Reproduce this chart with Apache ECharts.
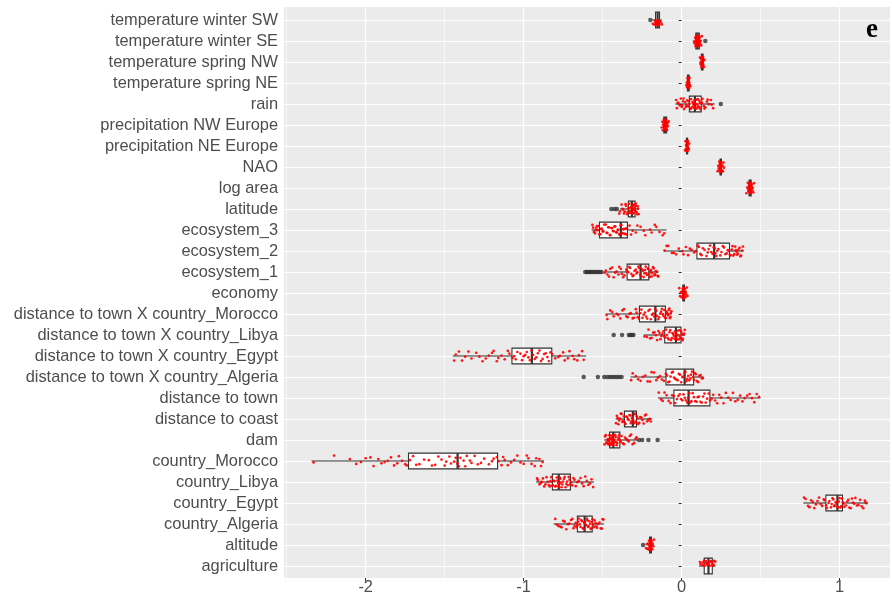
<!DOCTYPE html>
<html><head><meta charset="utf-8">
<script src="https://cdn.jsdelivr.net/npm/echarts@6/dist/echarts.min.js"></script>
<style>html,body{margin:0;padding:0;background:#fff}#c{width:892px;height:597px}</style>
</head><body><div id="c"></div>
<script>
const categories = ["temperature winter SW","temperature winter SE","temperature spring NW","temperature spring NE","rain","precipitation NW Europe","precipitation NE Europe","NAO","log area","latitude","ecosystem_3","ecosystem_2","ecosystem_1","economy","distance to town X country_Morocco","distance to town X country_Libya","distance to town X country_Egypt","distance to town X country_Algeria","distance to town","distance to coast","dam","country_Morocco","country_Libya","country_Egypt","country_Algeria","altitude","agriculture"];
const whiskerLow  = [-0.185,0.080,0.118,0.032,-0.040,-0.125,0.027,0.238,0.415,-0.390,-0.570,-0.113,-0.490,0.000,-0.480,-0.240,-1.449,-0.324,-0.150,-0.418,-0.490,-2.343,-0.921,0.770,-0.810,-0.215,0.110];
const q1          = [-0.165,0.090,0.125,0.037,0.049,-0.113,0.031,0.244,0.427,-0.337,-0.520,0.097,-0.345,0.008,-0.267,-0.107,-1.074,-0.099,-0.049,-0.362,-0.456,-1.729,-0.818,0.913,-0.660,-0.203,0.143];
const median      = [-0.152,0.100,0.130,0.042,0.084,-0.104,0.034,0.248,0.433,-0.315,-0.385,0.206,-0.260,0.013,-0.166,-0.036,-0.948,0.019,0.044,-0.309,-0.433,-1.418,-0.778,0.986,-0.614,-0.197,0.170];
const q3          = [-0.140,0.112,0.135,0.047,0.124,-0.095,0.037,0.252,0.440,-0.295,-0.343,0.303,-0.208,0.018,-0.103,-0.004,-0.822,0.076,0.179,-0.286,-0.391,-1.165,-0.704,1.018,-0.566,-0.191,0.194];
const whiskerHigh = [-0.125,0.125,0.142,0.052,0.210,-0.085,0.041,0.258,0.452,-0.270,-0.095,0.390,-0.145,0.028,-0.063,0.023,-0.604,0.139,0.500,-0.187,-0.282,-0.871,-0.555,1.175,-0.492,-0.180,0.215];
const outliers = [
  [-0.198],[0.150],[],[],[0.248],[],[],[],[],
  [-0.445,-0.425,-0.410],
  [],[],
  [-0.610,-0.600,-0.592,-0.583,-0.575,-0.566,-0.557,-0.548,-0.538,-0.528,-0.518,-0.508],
  [],[],
  [-0.430,-0.377,-0.334,-0.325,-0.315,-0.305],
  [],
  [-0.620,-0.530,-0.490,-0.470,-0.455,-0.440,-0.425,-0.410,-0.395,-0.380],
  [],[],
  [-0.270,-0.250,-0.210,-0.152],
  [],[],[],[],
  [-0.244],
  []
];
const points = [
  [-0.182,-0.178,-0.174,-0.171,-0.168,-0.166,-0.164,-0.162,-0.160,-0.158,-0.157,-0.155,-0.154,-0.153,-0.152,-0.151,-0.150,-0.149,-0.147,-0.146,-0.144,-0.142,-0.140,-0.138,-0.135,-0.132,-0.129,-0.125,-0.121,-0.156,-0.159,-0.148,-0.143,-0.163,-0.137],
  [0.078,0.082,0.085,0.088,0.090,0.092,0.094,0.095,0.097,0.098,0.099,0.100,0.101,0.102,0.104,0.105,0.106,0.108,0.110,0.112,0.114,0.117,0.120,0.124,0.128,0.096,0.103,0.109,0.093,0.107],
  [0.116,0.119,0.121,0.123,0.125,0.126,0.127,0.128,0.129,0.130,0.130,0.131,0.132,0.133,0.134,0.135,0.137,0.139,0.141,0.144,0.128,0.132],
  [0.030,0.033,0.035,0.037,0.038,0.039,0.040,0.041,0.042,0.042,0.043,0.044,0.045,0.046,0.048,0.050,0.052,0.055,0.040,0.044],
  [-0.035,-0.030,-0.020,-0.012,-0.005,0.000,0.008,0.015,0.022,0.030,0.036,0.042,0.050,0.055,0.060,0.066,0.072,0.078,0.083,0.088,0.094,0.100,0.106,0.112,0.118,0.124,0.132,0.140,0.150,0.160,0.172,0.185,0.200,
   -0.025,0.004,0.012,0.026,0.046,0.058,0.069,0.075,0.081,0.086,0.091,0.097,0.103,0.109,0.115,0.121,0.128,0.145,0.165,0.190],
  [-0.126,-0.122,-0.119,-0.116,-0.113,-0.111,-0.109,-0.107,-0.105,-0.104,-0.103,-0.101,-0.100,-0.098,-0.096,-0.094,-0.092,-0.089,-0.086,-0.082,-0.106,-0.099],
  [0.022,0.025,0.027,0.029,0.030,0.031,0.032,0.033,0.034,0.035,0.036,0.037,0.038,0.040,0.042,0.045,0.048,0.033,0.036],
  [0.228,0.232,0.235,0.238,0.240,0.242,0.244,0.245,0.246,0.247,0.248,0.249,0.250,0.251,0.252,0.254,0.256,0.258,0.261,0.265,0.268,0.247,0.250],
  [0.410,0.415,0.419,0.422,0.424,0.426,0.428,0.430,0.431,0.432,0.433,0.434,0.435,0.436,0.438,0.440,0.442,0.444,0.447,0.450,0.454,0.458,0.429,0.437,0.433,0.441],
  [-0.395,-0.380,-0.370,-0.360,-0.352,-0.345,-0.338,-0.332,-0.326,-0.320,-0.316,-0.312,-0.308,-0.304,-0.300,-0.296,-0.290,-0.285,-0.278,-0.272,-0.318,-0.310,-0.302,
   -0.390,-0.375,-0.365,-0.355,-0.342,-0.335,-0.329,-0.323,-0.314,-0.306,-0.298,-0.293,-0.288,-0.282,-0.276],
  [-0.565,-0.555,-0.548,-0.540,-0.532,-0.525,-0.515,-0.505,-0.495,-0.480,-0.470,-0.460,-0.450,-0.440,-0.430,-0.420,-0.410,-0.400,-0.390,-0.385,-0.378,-0.370,-0.362,-0.355,-0.348,-0.330,-0.310,-0.290,-0.260,-0.230,-0.200,-0.170,-0.140,-0.110,
   -0.560,-0.544,-0.536,-0.520,-0.510,-0.500,-0.490,-0.475,-0.465,-0.455,-0.445,-0.435,-0.425,-0.415,-0.405,-0.395,-0.382,-0.374,-0.366,-0.358,-0.350,-0.320,-0.280,-0.240,-0.190,-0.160,-0.120],
  [-0.108,-0.085,-0.062,-0.035,-0.018,0.004,0.027,0.041,0.063,0.079,0.102,0.118,0.134,0.157,0.171,0.188,0.203,0.214,0.226,0.245,0.261,0.277,0.292,0.305,0.318,0.327,0.339,0.348,0.356,0.367,0.372,0.384,
   -0.095,-0.050,0.012,0.052,0.090,0.110,0.126,0.145,0.165,0.180,0.196,0.210,0.220,0.233,0.252,0.268,0.285,0.298,0.310,0.322,0.333,0.343,0.352,0.360,0.376,0.388],
  [-0.488,-0.470,-0.452,-0.430,-0.412,-0.395,-0.378,-0.362,-0.350,-0.338,-0.326,-0.310,-0.298,-0.285,-0.274,-0.262,-0.251,-0.240,-0.232,-0.224,-0.215,-0.206,-0.198,-0.190,-0.181,-0.172,-0.163,-0.152,
   -0.480,-0.460,-0.440,-0.420,-0.400,-0.385,-0.370,-0.344,-0.332,-0.318,-0.304,-0.290,-0.280,-0.268,-0.256,-0.245,-0.236,-0.228,-0.220,-0.210,-0.202,-0.194,-0.186,-0.177,-0.168,-0.158,-0.148],
  [-0.015,-0.010,-0.005,-0.002,0.002,0.005,0.007,0.009,0.010,0.011,0.012,0.013,0.014,0.015,0.016,0.017,0.019,0.021,0.023,0.026,0.029,0.033,0.037,0.012,0.016,0.008],
  [-0.475,-0.452,-0.430,-0.410,-0.388,-0.365,-0.342,-0.322,-0.302,-0.285,-0.270,-0.255,-0.240,-0.225,-0.210,-0.195,-0.180,-0.168,-0.155,-0.142,-0.130,-0.120,-0.110,-0.100,-0.092,-0.085,-0.078,-0.070,-0.065,
   -0.470,-0.440,-0.400,-0.375,-0.350,-0.330,-0.310,-0.290,-0.278,-0.262,-0.248,-0.232,-0.218,-0.202,-0.188,-0.174,-0.160,-0.148,-0.136,-0.125,-0.115,-0.105,-0.096,-0.088,-0.081,-0.074,-0.068],
  [-0.235,-0.210,-0.190,-0.172,-0.155,-0.140,-0.128,-0.115,-0.104,-0.093,-0.082,-0.072,-0.062,-0.053,-0.045,-0.037,-0.030,-0.022,-0.015,-0.008,-0.002,0.005,0.012,0.020,
   -0.220,-0.200,-0.180,-0.163,-0.147,-0.134,-0.121,-0.110,-0.098,-0.088,-0.077,-0.067,-0.058,-0.049,-0.041,-0.033,-0.026,-0.018,-0.011,-0.005,0.001,0.008,0.016],
  [-1.440,-1.410,-1.370,-1.330,-1.300,-1.260,-1.220,-1.190,-1.160,-1.120,-1.090,-1.060,-1.040,-1.010,-0.990,-0.970,-0.950,-0.930,-0.910,-0.890,-0.870,-0.850,-0.830,-0.800,-0.770,-0.740,-0.710,-0.680,-0.650,-0.620,
   -1.430,-1.390,-1.350,-1.280,-1.240,-1.200,-1.170,-1.140,-1.100,-1.070,-1.050,-1.020,-1.000,-0.980,-0.960,-0.940,-0.920,-0.900,-0.880,-0.860,-0.840,-0.820,-0.780,-0.750,-0.720,-0.690,-0.660,-0.630],
  [-0.320,-0.290,-0.260,-0.230,-0.200,-0.175,-0.150,-0.125,-0.100,-0.085,-0.070,-0.055,-0.040,-0.025,-0.010,0.005,0.018,0.030,0.042,0.055,0.066,0.078,0.090,0.105,0.120,0.135,
   -0.310,-0.275,-0.245,-0.215,-0.190,-0.160,-0.138,-0.112,-0.092,-0.077,-0.062,-0.048,-0.032,-0.018,-0.003,0.011,0.024,0.036,0.048,0.060,0.072,0.084,0.097,0.112,0.128],
  [-0.145,-0.120,-0.095,-0.070,-0.050,-0.030,-0.012,0.005,0.020,0.035,0.048,0.062,0.078,0.095,0.110,0.128,0.145,0.162,0.180,0.200,0.225,0.250,0.280,0.310,0.340,0.370,0.400,0.430,0.460,0.490,
   -0.130,-0.108,-0.082,-0.060,-0.040,-0.021,-0.004,0.012,0.028,0.041,0.055,0.070,0.086,0.102,0.119,0.136,0.153,0.171,0.190,0.212,0.238,0.265,0.295,0.325,0.355,0.385,0.415,0.445,0.475],
  [-0.415,-0.405,-0.395,-0.385,-0.375,-0.365,-0.355,-0.345,-0.335,-0.325,-0.318,-0.310,-0.302,-0.295,-0.288,-0.280,-0.268,-0.255,-0.240,-0.225,-0.210,-0.195,
   -0.410,-0.400,-0.390,-0.380,-0.370,-0.360,-0.350,-0.340,-0.330,-0.322,-0.314,-0.306,-0.298,-0.291,-0.284,-0.275,-0.262,-0.248,-0.232,-0.218,-0.202],
  [-0.488,-0.480,-0.472,-0.466,-0.460,-0.455,-0.450,-0.446,-0.442,-0.438,-0.434,-0.430,-0.425,-0.420,-0.414,-0.408,-0.400,-0.392,-0.380,-0.365,-0.350,-0.335,-0.320,-0.300,-0.285,-0.452,-0.444,-0.462,
   -0.485,-0.476,-0.469,-0.463,-0.457,-0.453,-0.448,-0.444,-0.440,-0.436,-0.432,-0.428,-0.422,-0.417,-0.411,-0.404,-0.396,-0.386,-0.372,-0.358,-0.342,-0.328,-0.310,-0.292],
  [-2.330,-2.200,-2.060,-2.000,-1.950,-1.920,-1.880,-1.840,-1.800,-1.770,-1.740,-1.700,-1.660,-1.600,-1.560,-1.520,-1.500,-1.470,-1.440,-1.420,-1.400,-1.370,-1.340,-1.310,-1.270,-1.220,-1.190,-1.160,-1.130,-1.100,-1.060,-1.020,-0.980,-0.950,-0.920,-0.890,
   -2.100,-2.030,-1.970,-1.900,-1.860,-1.820,-1.790,-1.750,-1.720,-1.680,-1.630,-1.580,-1.540,-1.490,-1.460,-1.430,-1.410,-1.380,-1.360,-1.330,-1.290,-1.250,-1.200,-1.170,-1.140,-1.120,-1.080,-1.040,-1.000,-0.970,-0.930,-0.900,-0.880],
  [-0.915,-0.900,-0.885,-0.870,-0.855,-0.840,-0.830,-0.820,-0.810,-0.800,-0.790,-0.782,-0.775,-0.768,-0.760,-0.750,-0.740,-0.730,-0.720,-0.710,-0.700,-0.685,-0.670,-0.650,-0.630,-0.610,-0.590,-0.570,-0.560,
   -0.910,-0.892,-0.878,-0.862,-0.848,-0.835,-0.825,-0.815,-0.805,-0.795,-0.786,-0.778,-0.771,-0.764,-0.755,-0.745,-0.735,-0.725,-0.715,-0.705,-0.692,-0.678,-0.660,-0.640,-0.620,-0.600,-0.580],
  [0.775,0.800,0.820,0.840,0.860,0.880,0.900,0.915,0.930,0.945,0.955,0.965,0.975,0.985,0.995,1.005,1.015,1.025,1.040,1.055,1.070,1.085,1.100,1.120,1.140,1.160,1.170,
   0.785,0.810,0.830,0.850,0.870,0.890,0.905,0.920,0.935,0.950,0.960,0.970,0.980,0.990,1.000,1.010,1.020,1.030,1.048,1.062,1.078,1.092,1.110,1.130,1.150,1.165],
  [-0.800,-0.780,-0.760,-0.740,-0.720,-0.700,-0.685,-0.670,-0.660,-0.650,-0.640,-0.630,-0.620,-0.612,-0.604,-0.596,-0.588,-0.580,-0.572,-0.564,-0.555,-0.545,-0.535,-0.520,-0.505,-0.495,
   -0.790,-0.770,-0.750,-0.730,-0.710,-0.692,-0.678,-0.665,-0.655,-0.645,-0.635,-0.625,-0.616,-0.608,-0.600,-0.592,-0.584,-0.576,-0.568,-0.560,-0.550,-0.540,-0.528,-0.512,-0.500],
  [-0.225,-0.220,-0.216,-0.212,-0.209,-0.206,-0.204,-0.202,-0.200,-0.199,-0.198,-0.197,-0.196,-0.195,-0.193,-0.191,-0.189,-0.186,-0.183,-0.179,-0.175,-0.200,-0.194],
  [0.112,0.120,0.128,0.135,0.140,0.145,0.150,0.155,0.160,0.164,0.168,0.172,0.176,0.180,0.184,0.188,0.192,0.196,0.200,0.205,0.210,0.171,0.161,0.181,
   0.116,0.124,0.132,0.138,0.143,0.148,0.153,0.158,0.162,0.166,0.170,0.174,0.178,0.182,0.186,0.190,0.194,0.198,0.202,0.208,0.213]
];
// fixed vertical jitter pattern (category units)
const jitter = [0.18,-0.07,0.22,-0.21,0.03,0.12,-0.15,0.25,-0.02,-0.24,0.09,0.16,-0.11,0.01,-0.19,0.20,-0.05,0.07,-0.26,0.14,-0.13,0.24,-0.09,0.05,-0.17,0.11,-0.01,0.21,-0.23,0.15,-0.04];
const xTickLabels = [-2, -1, 0, 1];
const xMin = -2.517, xMax = 1.319;

const boxData = categories.map((c, i) => [i, whiskerLow[i], q1[i], median[i], q3[i], whiskerHigh[i]]);
const outlierData = [];
outliers.forEach((arr, i) => arr.forEach(v => outlierData.push([v, i])));
const pointData = [];
let k = 0;
points.forEach((arr, i) => arr.forEach(v => { pointData.push([v, i + jitter[k % jitter.length]]); k++; }));

const FONT = "'Liberation Sans', Arial, sans-serif";
const chart = echarts.init(document.getElementById('c'));
chart.setOption({
  animation: false,
  backgroundColor: '#ffffff',
  grid: [
    {left: 284, right: 2, top: 7, bottom: 19, show: true, backgroundColor: '#EBEBEB', borderWidth: 0},
    {left: 284, right: 2, top: 20, bottom: 31, show: false}
  ],
  xAxis: [
    {type: 'value', gridIndex: 0, min: xMin, max: xMax,
     axisLine: {show: false},
     axisTick: {show: true, length: 3, lineStyle: {color: '#333333', width: 1}},
     axisLabel: {color: '#4D4D4D', fontSize: 16.4, fontFamily: FONT, margin: 1,
                 showMinLabel: false, showMaxLabel: false,
                 formatter: v => xTickLabels.includes(v) ? String(v) : ''},
     splitLine: {show: true, showMinLine: false, showMaxLine: false, lineStyle: {color: '#ffffff', width: 1.2}},
     minorTick: {show: false, splitNumber: 2},
     minorSplitLine: {show: true, lineStyle: {color: '#ffffff', width: 0.6}}},
    {type: 'value', gridIndex: 1, min: xMin, max: xMax, show: false}
  ],
  yAxis: [
    {type: 'value', gridIndex: 0, min: 0, max: 1, show: false},
    {type: 'category', gridIndex: 1, data: categories, inverse: true, boundaryGap: false,
     axisLine: {show: false},
     axisTick: {show: true, length: 3, lineStyle: {color: '#333333', width: 1}},
     axisLabel: {color: '#4D4D4D', fontSize: 16.4, fontFamily: FONT, margin: 6, interval: 0},
     splitLine: {show: true, interval: 0, lineStyle: {color: '#ffffff', width: 1.2}}},
    {type: 'value', gridIndex: 1, min: 0, max: 26, inverse: true, show: false}
  ],
  series: [
    {type: 'custom', xAxisIndex: 1, yAxisIndex: 2, data: boxData, z: 2,
     encode: {x: [1, 2, 3, 4, 5], y: 0},
     renderItem: function (params, api) {
       const idx = api.value(0);
       const lo = api.coord([api.value(1), idx]);
       const b1 = api.coord([api.value(2), idx]);
       const md = api.coord([api.value(3), idx]);
       const b3 = api.coord([api.value(4), idx]);
       const hi = api.coord([api.value(5), idx]);
       const hh = api.size([0, 0.375])[1];
       const y = md[1];
       return {type: 'group', children: [
         {type: 'line', shape: {x1: lo[0], y1: y, x2: b1[0], y2: y}, style: {stroke: '#333333', lineWidth: 1.1}},
         {type: 'line', shape: {x1: b3[0], y1: y, x2: hi[0], y2: y}, style: {stroke: '#333333', lineWidth: 1.1}},
         {type: 'rect', shape: {x: b1[0], y: y - hh, width: Math.max(b3[0] - b1[0], 1), height: 2 * hh}, style: {fill: '#ffffff', stroke: '#333333', lineWidth: 1.1}},
         {type: 'line', shape: {x1: md[0], y1: y - hh, x2: md[0], y2: y + hh}, style: {stroke: '#333333', lineWidth: 2.2}}
       ]};
     }},
    {type: 'scatter', xAxisIndex: 1, yAxisIndex: 2, data: outlierData, z: 3,
     symbol: 'circle', symbolSize: 4.5, itemStyle: {color: '#333333'}},
    {type: 'scatter', xAxisIndex: 1, yAxisIndex: 2, data: pointData, z: 4,
     symbol: 'circle', symbolSize: 2.7, itemStyle: {color: '#FF0000', opacity: 0.9}}
  ],
  graphic: [
    {type: 'text', x: 866, y: 30, z: 10,
     style: {text: 'e', fontSize: 27, fontWeight: 'bold', fontFamily: "'Liberation Serif', 'Times New Roman', serif", fill: '#000000', verticalAlign: 'middle'}}
  ]
});
</script>
</body></html>
